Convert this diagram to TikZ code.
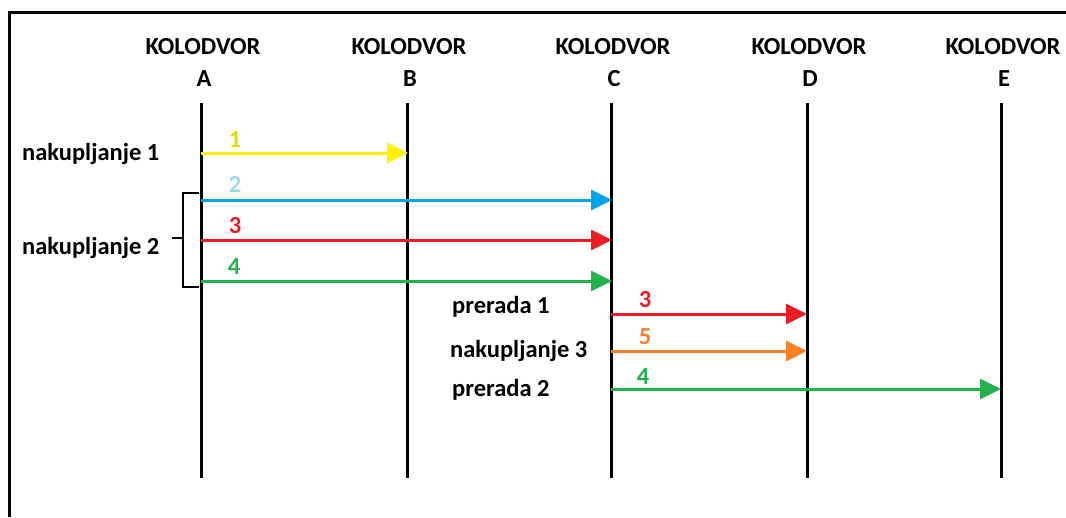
\documentclass[tikz,border=0pt]{standalone}
\usepackage{fontspec}
\setmainfont{Carlito}
\usetikzlibrary{arrows.meta}
\definecolor{pyellow}{HTML}{FFF200}
\definecolor{pblue}{HTML}{00A2E8}
\definecolor{pcyan}{HTML}{99D9EA}
\definecolor{pred}{HTML}{ED1C24}
\definecolor{pgreen}{HTML}{22B14C}
\definecolor{porange}{HTML}{FF7F27}
\tikzset{
  lbl/.style={font=\fontsize{24.5}{26}\selectfont\bfseries, inner sep=0pt},
  num/.style={font=\fontsize{24.5}{26}\selectfont\bfseries, inner sep=0pt},
  station/.style={line width=3pt, black},
  flow/.style={line width=3pt, -{Triangle[length=21pt,width=20pt]}, shorten >=-1pt},
}
\begin{document}
\begin{tikzpicture}[x=1pt,y=-1pt]
\useasboundingbox (0,0) rectangle (1066,517);
% frame
\draw[line width=3pt] (9,517) -- (9,12) -- (1066,12);
% station headers
\foreach \n/\x in {A/203,B/409,C/613,D/809,E/1003}{
  \node[lbl] (k\n) at (\x,47) {KOLODVOR};
  \node[lbl] (l\n) at (\x+1,79) {\n};
  \coordinate (t\n) at (\x-2,103);
  \coordinate (b\n) at (\x-2,478);
  \draw[station] (t\n) -- (b\n);
}
% arrow endpoints
\coordinate (a1) at (201,153); \coordinate (e1) at (407,153);
\coordinate (a2) at (201,200); \coordinate (e2) at (611,200);
\coordinate (a3) at (201,240); \coordinate (e3) at (611,240);
\coordinate (a4) at (201,281); \coordinate (e4) at (611,281);
\coordinate (a5) at (611,314); \coordinate (e5) at (806,314);
\coordinate (a6) at (611,351); \coordinate (e6) at (806,351);
\coordinate (a7) at (611,389); \coordinate (e7) at (1000,389);
\draw[flow, pyellow] (a1) -- (e1);
\draw[flow, pblue] (a2) -- (e2);
\draw[flow, pred] (a3) -- (e3);
\draw[flow, pgreen] (a4) -- (e4);
\draw[flow, pred] (a5) -- (e5);
\draw[flow, porange] (a6) -- (e6);
\draw[flow, pgreen] (a7) -- (e7);
% numbers
\node[num, text=pyellow!90!black] (n1) at (235,140) {1};
\node[num, text=pcyan] (n2) at (235,184) {2};
\node[num, text=pred] (n3) at (235,226) {3};
\node[num, text=pgreen] (n4) at (234,267) {4};
\node[num, text=pred] (n5) at (645,300) {3};
\node[num, text=porange] (n6) at (645,337) {5};
\node[num, text=pgreen] (n7) at (643,377) {4};
% left labels
\node[lbl, anchor=west] (nak1) at (22,154) {nakupljanje 1};
\node[lbl, anchor=west] (nak2) at (22,248) {nakupljanje 2};
\coordinate (br1) at (199,193);
\coordinate (br2) at (199,287);
\coordinate (brm) at (172,238);
\draw[line width=2pt] (br1) -- (183,193) -- (183,287) -- (br2);
\draw[line width=2pt] (brm) -- (183,238);
% middle labels
\node[lbl, anchor=west] (pr1) at (452,307) {prerada 1};
\node[lbl, anchor=west] (nak3) at (450,351) {nakupljanje 3};
\node[lbl, anchor=west] (pr2) at (452,390) {prerada 2};
\end{tikzpicture}
\end{document}
